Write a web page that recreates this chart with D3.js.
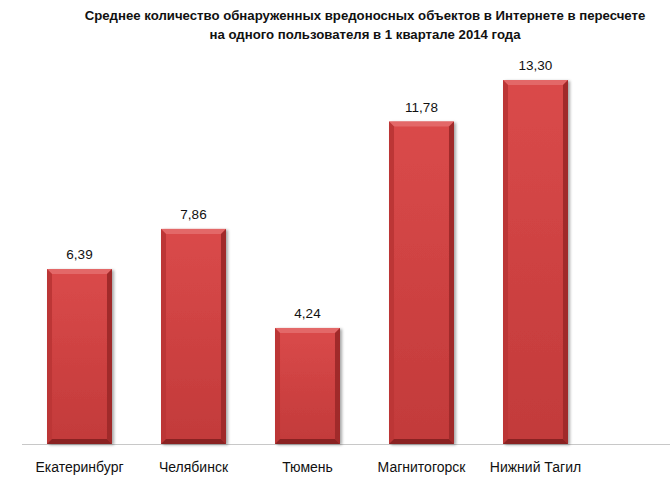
<!DOCTYPE html>
<html><head><meta charset="utf-8">
<script src="https://cdn.jsdelivr.net/npm/d3@7"></script>
<style>body{margin:0;background:#fff}svg{display:block}</style>
</head><body>
<svg id="c" width="670" height="477"></svg>
<script>
const categories = ["Екатеринбург","Челябинск","Тюмень","Магнитогорск","Нижний Тагил"];
const values = [6.39, 7.86, 4.24, 11.78, 13.30];
const titleLines = ["Среднее количество обнаруженных вредоносных объектов в Интернете в пересчете","на одного пользователя в 1 квартале 2014 года"];

const svg = d3.select("#c");
const font = "'Liberation Sans', Arial, sans-serif";
const baseY = 444;
const x = d3.scaleBand().domain(categories).range([22.5, 592.5]).paddingInner(0.43).paddingOuter(0.215);
const y = d3.scaleLinear().domain([0, 13.30]).range([baseY, 80]);

const defs = svg.append("defs");
const g1 = defs.append("linearGradient").attr("id","body").attr("x1",0).attr("y1",0).attr("x2",0).attr("y2",1);
g1.append("stop").attr("offset","0%").attr("stop-color","#da4a4a");
g1.append("stop").attr("offset","100%").attr("stop-color","#c23a3a");
const gs = defs.append("filter").attr("id","sh").attr("x","-20%").attr("y","-5%").attr("width","140%").attr("height","110%");
gs.append("feGaussianBlur").attr("in","SourceAlpha").attr("stdDeviation",1.5);
gs.append("feOffset").attr("dx",2).attr("dy",1).attr("result","b");
gs.append("feComponentTransfer").append("feFuncA").attr("type","linear").attr("slope",0.35);
const m = gs.append("feMerge"); m.append("feMergeNode"); m.append("feMergeNode").attr("in","SourceGraphic");

// title
svg.append("text").attr("x",365).attr("y",20).attr("text-anchor","middle")
  .attr("font-family",font).attr("font-weight","bold").attr("font-size",13.2).attr("fill","#111")
  .selectAll("tspan").data(titleLines).join("tspan").attr("x",365).attr("dy",(d,i)=>i?19:0).text(d=>d);

// axis line
svg.append("line").attr("x1",22).attr("x2",670).attr("y1",baseY+0.5).attr("y2",baseY+0.5).attr("stroke","#c8c8c8").attr("stroke-width",1);

const b = 5;
const bars = svg.selectAll("g.bar").data(categories.map((c,i)=>({c,v:values[i]}))).join("g").attr("class","bar");
bars.each(function(d){
  const g = d3.select(this);
  const x0 = x(d.c), w = x.bandwidth(), y0 = y(d.v), y1 = baseY;
  const x1 = x0 + w;
  g.append("rect").attr("x",x0).attr("y",y0).attr("width",w).attr("height",y1-y0).attr("fill","url(#body)").attr("filter","url(#sh)");
  // bevels
  g.append("polygon").attr("points",`${x0},${y0} ${x1},${y0} ${x1-b},${y0+b} ${x0+b},${y0+b}`).attr("fill","#e36868");
  g.append("polygon").attr("points",`${x0},${y0} ${x0+b},${y0+b} ${x0+b},${y1-b} ${x0},${y1}`).attr("fill","#bc3636");
  g.append("polygon").attr("points",`${x1},${y0} ${x1-b},${y0+b} ${x1-b},${y1-b} ${x1},${y1}`).attr("fill","#a02a2a");
  g.append("polygon").attr("points",`${x0},${y1} ${x0+b},${y1-b} ${x1-b},${y1-b} ${x1},${y1}`).attr("fill","#8a2222");
  g.append("text").attr("x",x0+w/2).attr("y",y0-10).attr("text-anchor","middle")
    .attr("font-family",font).attr("font-size",13.5).attr("fill","#111").text(d.v.toFixed(2).replace(".",","));
  g.append("text").attr("x",x0+w/2).attr("y",472).attr("text-anchor","middle")
    .attr("font-family",font).attr("font-size",14).attr("fill","#111").text(d.c);
});
</script>
</body></html>
